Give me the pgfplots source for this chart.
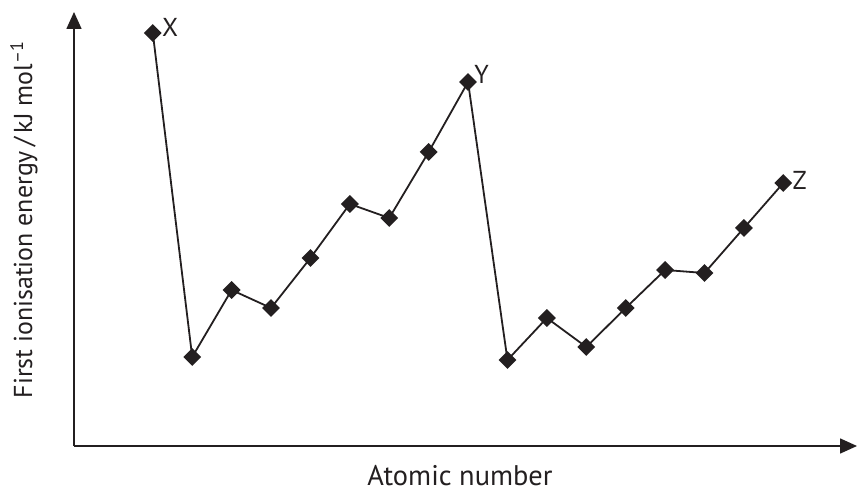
\documentclass[border=0pt]{standalone}
\usepackage{fontspec}
\setmainfont{PT Sans}
\usepackage{pgfplots}
\pgfplotsset{compat=1.18}
\usetikzlibrary{arrows.meta}
\definecolor{ink}{HTML}{231F20}

\begin{document}
\begin{tikzpicture}
\begin{axis}[
    name=ax,
    scale only axis,
    width=783bp,
    height=434bp,
    xmin=0, xmax=19.87,
    ymin=0, ymax=434,
    axis lines=left,
    axis line style={ink, line width=1.6bp, -{Triangle[width=15bp,length=17bp]}},
    xtick=\empty, ytick=\empty,
    clip=false,
    label style={text=ink, inner sep=0pt},
    xlabel={Atomic number},
    xlabel style={font=\fontsize{28.5}{32}\selectfont, at={(axis description cs:0.493,-0.0899)}, anchor=base},
    ylabel={First ionisation energy\,/\,kJ mol\textsuperscript{–1}},
    ylabel style={font=\fontsize{26}{30}\selectfont, at={(axis description cs:-0.0536,0.521)}, anchor=base, rotate=0},
]
% pixel heights above the x axis
\addplot[ink, line width=1.8bp, mark=square*, mark size=5.4bp,
         mark options={rotate=45, solid, fill=ink}] coordinates {
    (2,413) (3,89) (4,156) (5,138) (6,188) (7,242) (8,228) (9,294) (10,364)
    (11,86) (12,128) (13,99) (14,138) (15,176) (16,173) (17,218) (18,263)
};
\begin{scope}[every node/.style={font=\fontsize{26}{30}\selectfont, text=ink, inner sep=0pt, anchor=base west}]
\node[xshift=9bp, yshift=-4bp] at (axis cs:2,413) {X};
\node[xshift=6bp, yshift=-2bp] at (axis cs:10,364) {Y};
\node[xshift=9bp, yshift=-7bp] at (axis cs:18,263) {Z};
\end{scope}
\end{axis}
\pgfresetboundingbox
\path[use as bounding box] ([shift={(-74bp,-52bp)}]ax.south west) rectangle ([shift={(0bp,12bp)}]ax.north east);
\end{tikzpicture}
\end{document}
